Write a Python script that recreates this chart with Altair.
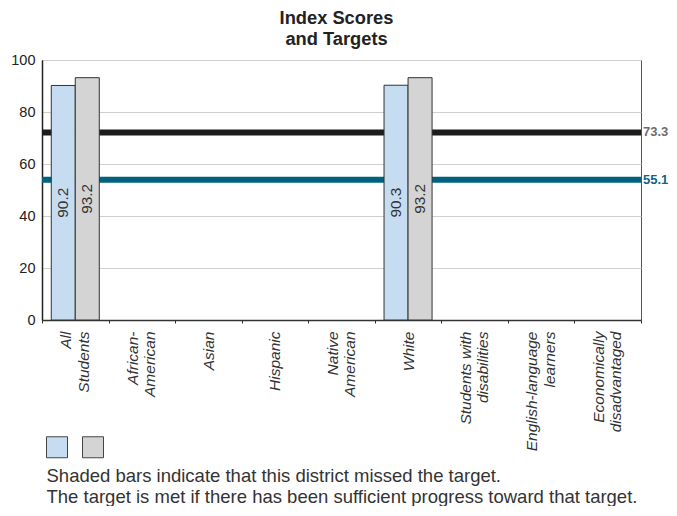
import altair as alt
import pandas as pd

# ---- data ----
categories = ["All Students", "African-American", "Asian", "Hispanic",
              "Native American", "White", "Students with disabilities",
              "English-language learners", "Economically disadvantaged"]
tick_labels = [["All", "Students"], ["African-", "American"], ["Asian"],
               ["Hispanic"], ["Native", "American"], ["White"],
               ["Students with", "disabilities"], ["English-language", "learners"],
               ["Economically", "disadvantaged"]]
series = ["Series 1", "Series 2"]
series_colors = ["#c6dcf1", "#d4d4d4"]

bar_groups = ["All Students", "All Students", "White", "White"]
bar_series = ["Series 1", "Series 2", "Series 1", "Series 2"]
bar_values = [90.2, 93.2, 90.3, 93.2]

target_values = [73.3, 55.1]
target_line_colors = ["#1c1c1c", "#00627e"]
target_label_colors = ["#6d6d6d", "#0d6682"]

title_lines = ["Index Scores", "and Targets"]
note_lines = ["Shaded bars indicate that this district missed the target.",
              "The target is met if there has been sufficient progress toward that target."]
y_ticks = [0, 20, 40, 60, 80, 100]

bars_df = pd.DataFrame({"group": bar_groups, "series": bar_series, "value": bar_values})
targets_df = pd.DataFrame({"target": target_values,
                           "line_color": target_line_colors,
                           "label_color": target_label_colors})

# label expression built from tick label lists
expr = "''"
for cat, lines in reversed(list(zip(categories, tick_labels))):
    arr = "[" + ",".join("'" + s + "'" for s in lines) + "]"
    expr = f"datum.value == '{cat}' ? {arr} : ({expr})"
two_line = [c for c, l in zip(categories, tick_labels) if len(l) > 1]
two_line_arr = "[" + ",".join("'" + c + "'" for c in two_line) + "]"
offset_expr = f"indexof({two_line_arr}, datum.value) >= 0 ? -9.5 : 0"

FONT = "Liberation Sans"

x_axis = alt.Axis(
    title=note_lines, labelAngle=270, labelFontStyle="italic", labelFontSize=15.5,
    labelColor="#333333", labelLineHeight=17.5, labelPadding=8, labelLimit=300,
    labelAlign="right", labelBaseline="middle", labelExpr=expr,
    labelOffset={"expr": offset_expr},
    tickBand="extent", tickSize=3, tickColor="#333333", tickWidth=1,
    domainColor="#333333", domainWidth=1.5, grid=False,
    titleAnchor="start", titleAlign="left", titleX=4, titleY=161,
    titleBaseline="alphabetic", titleFontSize=18.5, titleFontWeight="normal",
    titleColor="#333333", titleLineHeight=21, titleFont=FONT,
)
y_axis = alt.Axis(
    title=None, values=y_ticks, grid=True, gridColor="#cfcfcf", gridWidth=1,
    ticks=False, labelPadding=7, labelFontSize=14.5, labelColor="#222222",
    domainColor="#222222", domainWidth=1.5,
)

x_enc = alt.X("group:N", scale=alt.Scale(domain=categories, paddingInner=0, paddingOuter=0),
              axis=x_axis)
xoff_enc = alt.XOffset("series:N", scale=alt.Scale(domain=series, paddingInner=0, paddingOuter=0.386))
y_scale = alt.Scale(domain=[0, 100])

rules = alt.Chart(targets_df).mark_rule(strokeWidth=6, yOffset=3).encode(
    y=alt.Y("target:Q", scale=y_scale, axis=y_axis),
    color=alt.Color("line_color:N", scale=None),
)

bars = alt.Chart(bars_df).mark_bar(stroke="#333333", strokeWidth=1).encode(
    x=x_enc,
    xOffset=xoff_enc,
    y=alt.Y("value:Q", scale=y_scale, axis=y_axis),
    color=alt.Color("series:N", scale=alt.Scale(domain=series, range=series_colors),
                    legend=alt.Legend(title=None, orient="none", legendX=4, legendY=376,
                                      direction="horizontal", symbolType="square",
                                      symbolSize=441, symbolStrokeColor="#444444",
                                      symbolStrokeWidth=1, labelExpr="''", labelOffset=0,
                                      labelFontSize=1, columnPadding=10, padding=0,
                                      symbolOpacity=1)),
)

bar_text = alt.Chart(bars_df).transform_calculate(mid="datum.value / 2").mark_text(
    angle=270, fontSize=15.4, color="#333333", baseline="middle", align="center"
).encode(
    x=x_enc,
    xOffset=xoff_enc,
    y=alt.Y("mid:Q", scale=y_scale, axis=y_axis),
    text=alt.Text("value:Q", format=".1f"),
)

rule_labels = alt.Chart(targets_df).mark_text(
    align="left", baseline="middle", fontSize=13, fontWeight="bold", yOffset=3
).encode(
    x=alt.value(601),
    y=alt.Y("target:Q", scale=y_scale, axis=y_axis),
    text=alt.Text("target:Q", format=".1f"),
    color=alt.Color("label_color:N", scale=None),
)

chart = alt.layer(rules, bars, bar_text, rule_labels).properties(
    width=599, height=260,
    title=alt.TitleParams(title_lines, fontSize=18.3, fontWeight="bold", color="#222222",
                          anchor="middle", frame="group", offset=3, dx=-5, lineHeight=20.5,
                          font=FONT),
    autosize=alt.AutoSizeParams(type="none"),
    padding={"left": 34, "top": 52, "right": 28, "bottom": 186},
).configure(font=FONT).configure_view(stroke="#555555", strokeWidth=1)

chart.save("out.html", embed_options={"renderer": "svg", "actions": False})
